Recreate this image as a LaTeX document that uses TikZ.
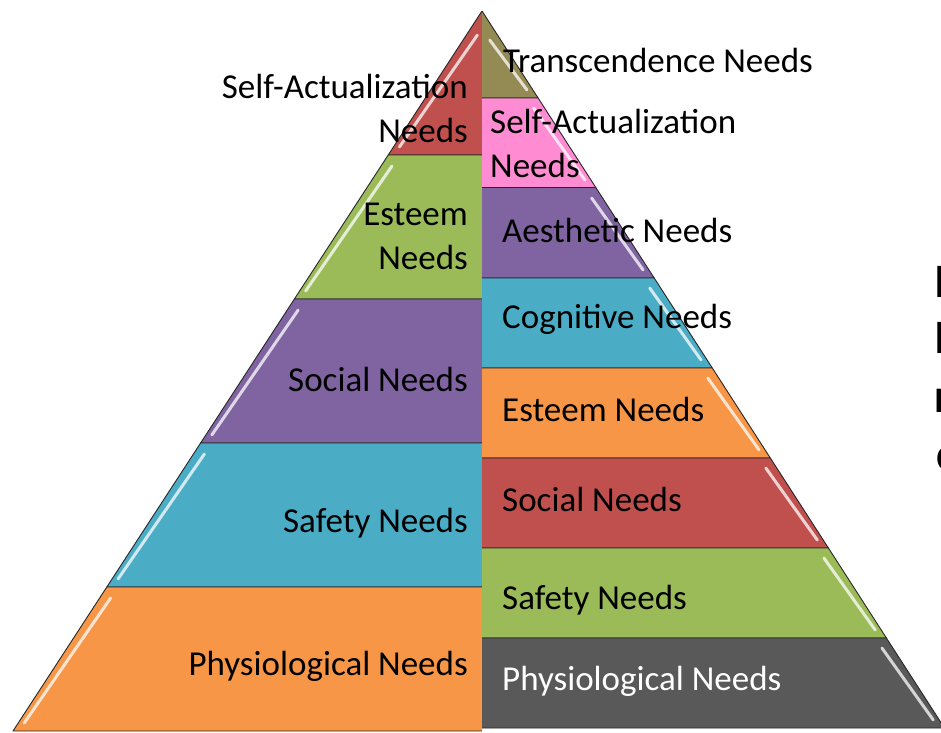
\documentclass[tikz,border=0pt]{standalone}
\usepackage{fontspec}
\setmainfont{Carlito}
\definecolor{tierRed}{HTML}{C0504D}
\definecolor{tierGreen}{HTML}{9BBB59}
\definecolor{tierPurple}{HTML}{8064A2}
\definecolor{tierBlue}{HTML}{4BACC6}
\definecolor{tierOrange}{HTML}{F79646}
\definecolor{tierOlive}{HTML}{948A54}
\definecolor{tierPink}{HTML}{FF8CD2}
\definecolor{tierGray}{HTML}{595959}

\begin{document}
\begin{tikzpicture}[
x=1pt,y=-1pt,
band/.style={draw=black!85,line width=0.9pt,line join=round},
gloss/.style={white,line width=3pt,line cap=round,opacity=0.75},
lab/.style={font=\fontsize{35}{44}\selectfont,text=black,inner sep=0pt},
lleft/.style={lab,anchor=base east,align=right},
lright/.style={lab,anchor=base west,align=left},
cutoff/.style={font=\fontsize{48}{57}\selectfont\bfseries,inner sep=0pt,anchor=base west}
]
\useasboundingbox (0,0) rectangle (941,732);
\clip (0,0) rectangle (941,732);

% left pyramid: five tiers
\path[band,fill=tierRed] (482,155) -- (388.2,155) -- (482,11);
\path[band,fill=tierGreen] (482,299) -- (294.4,299) -- (388.2,155) -- (482,155);
\path[band,fill=tierPurple] (482,443) -- (200.6,443) -- (294.4,299) -- (482,299);
\path[band,fill=tierBlue] (482,587) -- (106.8,587) -- (200.6,443) -- (482,443);
\path[band,fill=tierOrange] (482,731) -- (13,731) -- (106.8,587) -- (482,587);

% right pyramid: eight tiers
\path[band,fill=tierOlive] (482,98) -- (538.1,98) -- (482,11);
\path[band,fill=tierPink] (482,187.5) -- (595.8,187.5) -- (538.1,98) -- (482,98);
\path[band,fill=tierPurple] (482,278) -- (654.2,278) -- (595.8,187.5) -- (482,187.5);
\path[band,fill=tierBlue] (482,368) -- (712.3,368) -- (654.2,278) -- (482,278);
\path[band,fill=tierOrange] (482,458) -- (770.3,458) -- (712.3,368) -- (482,368);
\path[band,fill=tierRed] (482,548) -- (828.4,548) -- (770.3,458) -- (482,458);
\path[band,fill=tierGreen] (482,638) -- (886.4,638) -- (828.4,548) -- (482,548);
\path[band,fill=tierGray] (482,728) -- (944.5,728) -- (886.4,638) -- (482,638);

% highlights
\draw[gloss] (477.4,35) -- (399.4,147);
\draw[gloss] (392,166) -- (305.6,291);
\draw[gloss] (298.2,310) -- (211.8,435);
\draw[gloss] (204.4,454) -- (118,579);
\draw[gloss] (110.6,598) -- (24.2,723);
\draw[gloss] (489.7,40) -- (527,90);
\draw[gloss] (533.6,108) -- (585,180);
\draw[gloss] (591.6,198) -- (643.1,270);
\draw[gloss] (649.7,288) -- (701.1,360);
\draw[gloss] (707.8,378) -- (759.1,450);
\draw[gloss] (765.8,468) -- (817.3,540);
\draw[gloss] (823.9,558) -- (875.3,630);
\draw[gloss] (881.9,648) -- (933.3,720);

% labels, left (two-line nodes sit on their last baseline)
\node[lleft] (lselfact) at (468,142) {Self-Actualization\\Needs};
\node[lleft] (lesteem) at (468,269) {Esteem\\Needs};
\node[lleft] (lsocial) at (468,391) {Social Needs};
\node[lleft] (lsafety) at (468,532) {Safety Needs};
\node[lleft] (lphysio) at (468,675) {Physiological Needs};

% labels, right
\node[lright] (rtrans) at (503,72) {Transcendence Needs};
\node[lright] (rselfact) at (490,177) {Self-Actualization\\Needs};
\node[lright] (raesth) at (502,242) {Aesthetic Needs};
\node[lright] (rcogn) at (502,328) {Cognitive Needs};
\node[lright] (resteem) at (502,421) {Esteem Needs};
\node[lright] (rsocial) at (502,511) {Social Needs};
\node[lright] (rsafety) at (502,609) {Safety Needs};
\node[lright,text=white] (rphysio) at (502,690) {Physiological Needs};

% text cut off at the right edge
\node[cutoff] (cutA) at (934,297) {I};
\node[cutoff] (cutB) at (934,353) {I};
\node[cutoff] (cutC) at (934,412) {r};
\node[cutoff] (cutD) at (936,470) {c};
\end{tikzpicture}
\end{document}
